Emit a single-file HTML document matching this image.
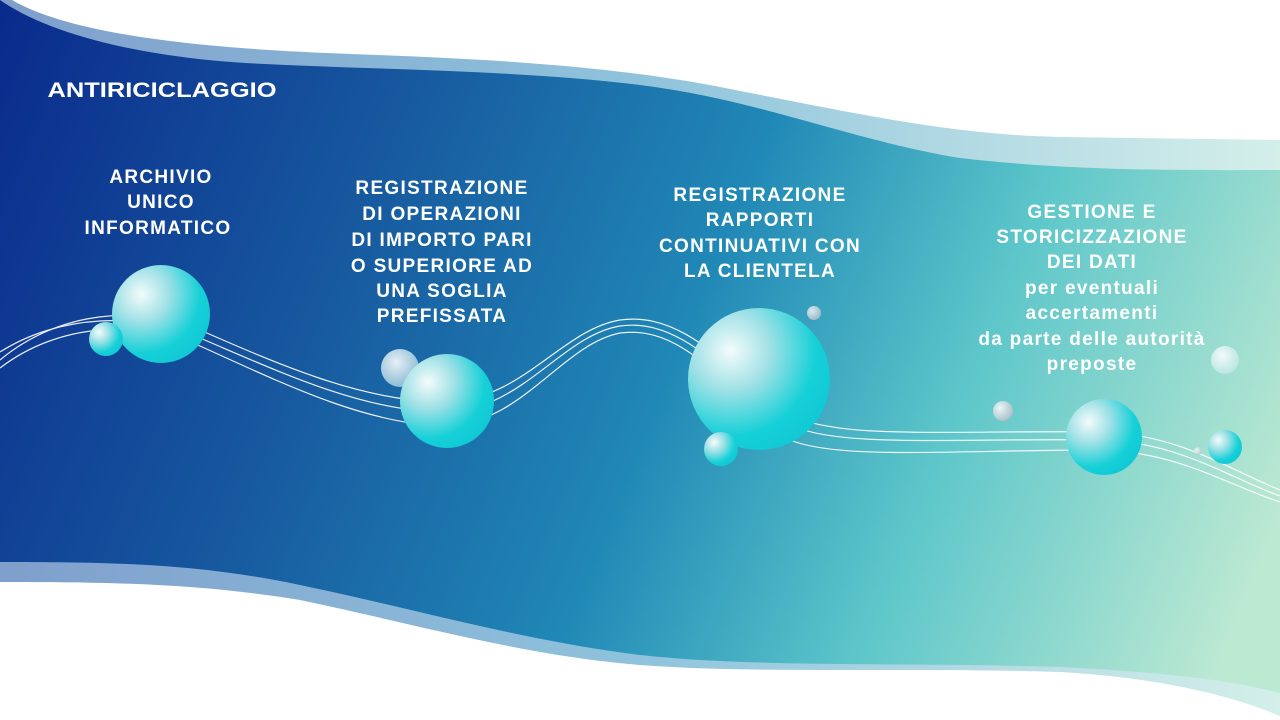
<!DOCTYPE html>
<html><head><meta charset="utf-8"><style>
html,body{margin:0;padding:0;width:1280px;height:720px;overflow:hidden;background:#fff}
svg{display:block}
text{font-family:"Liberation Sans",sans-serif;font-weight:bold;fill:#fff;text-anchor:middle}
</style></head><body>
<svg width="1280" height="720" viewBox="0 0 1280 720">
<defs>
<linearGradient id="bg" x1="0" y1="0" x2="1280" y2="520" gradientUnits="userSpaceOnUse">
<stop offset="0" stop-color="#0a2a8c"/>
<stop offset="0.3" stop-color="#17599f"/>
<stop offset="0.55" stop-color="#2088b6"/>
<stop offset="0.75" stop-color="#5cc6ca"/>
<stop offset="1" stop-color="#bce9d2"/>
</linearGradient>
<linearGradient id="band" x1="0" y1="0" x2="1280" y2="0" gradientUnits="userSpaceOnUse">
<stop offset="0" stop-color="#7f9fcc"/>
<stop offset="0.5" stop-color="#8fc3dc"/>
<stop offset="1" stop-color="#d4efea"/>
</linearGradient>
<radialGradient id="sp" cx="0.3" cy="0.3" r="0.8">
<stop offset="0" stop-color="#f4fbfb"/>
<stop offset="0.35" stop-color="#9fe1e6"/>
<stop offset="0.75" stop-color="#16d0d8"/>
<stop offset="1" stop-color="#10c8d4"/>
</radialGradient>
<radialGradient id="gr" cx="0.35" cy="0.35" r="0.8">
<stop offset="0" stop-color="#ffffff"/>
<stop offset="1" stop-color="#a9b3bf"/>
</radialGradient>
<radialGradient id="fd" cx="0.4" cy="0.35" r="0.8">
<stop offset="0" stop-color="#ffffff" stop-opacity="0.9"/>
<stop offset="1" stop-color="#bfe6ea" stop-opacity="0.6"/>
</radialGradient>
</defs>
<rect width="1280" height="720" fill="url(#bg)"/>
<path d="M0,0 C40,28 120,55 245,63 C380,70 520,70 640,85 C760,100 850,140 960,158 C1080,172 1200,170 1280,170 L1280,0 Z" fill="url(#band)"/>
<path d="M12,0 C60,28 160,46 326,53 C450,58 600,62 735,90 C850,112 950,135 1061,137 L1280,140 L1280,0 Z" fill="#fff"/>
<path d="M0,562 C120,562 200,564 300,585 C420,610 520,640 640,655 C760,668 900,662 1061,667 C1160,672 1230,680 1280,693 L1280,720 L0,720 Z" fill="url(#band)"/>
<path d="M0,582 C120,582 200,584 300,600 C420,625 520,655 640,665 C760,674 900,667 1061,672 C1160,678 1230,695 1280,716 L1280,720 L0,720 Z" fill="#fff"/>
<g fill="none" stroke="#fff" stroke-width="1.2" opacity="0.9">
<path d="M0,360 C60,310 140,305 200,330 C280,365 360,400 440,402 C520,404 560,330 620,320 C680,312 720,360 790,415 C840,440 950,430 1104,432 C1180,435 1230,470 1280,490"/>
<path d="M0,352 C60,314 140,312 200,338 C280,372 360,410 440,412 C520,414 560,336 620,326 C680,318 720,370 790,425 C840,448 950,438 1104,440 C1180,443 1230,478 1280,496"/>
<path d="M0,368 C60,322 140,320 200,346 C280,382 360,422 440,426 C520,428 560,345 620,333 C680,325 720,380 790,440 C840,460 950,450 1104,450 C1180,453 1230,486 1280,502"/>
</g>
<circle cx="400" cy="368" r="19" fill="url(#fd)"/>
<circle cx="1225" cy="360" r="14" fill="url(#fd)"/>
<circle cx="814" cy="313" r="7" fill="url(#gr)" opacity="0.8"/>
<circle cx="1003" cy="411" r="10" fill="url(#gr)" opacity="0.85"/>
<circle cx="1198" cy="451" r="4" fill="url(#gr)" opacity="0.7"/>
<circle cx="161" cy="314" r="49" fill="url(#sp)"/>
<circle cx="106" cy="339" r="17" fill="url(#sp)"/>
<circle cx="447" cy="401" r="47" fill="url(#sp)"/>
<circle cx="759" cy="379" r="71" fill="url(#sp)"/>
<circle cx="721" cy="449" r="17" fill="url(#sp)"/>
<circle cx="1104" cy="437" r="38" fill="url(#sp)"/>
<circle cx="1225" cy="447" r="17" fill="url(#sp)"/>
<text x="162" y="97" font-size="21" textLength="229" lengthAdjust="spacingAndGlyphs">ANTIRICICLAGGIO</text>
<g font-size="19" letter-spacing="1.3">
<text x="161" y="183">ARCHIVIO</text>
<text x="161" y="208">UNICO</text>
<text x="158" y="234">INFORMATICO</text>
<text x="442" y="194">REGISTRAZIONE</text>
<text x="442" y="220">DI OPERAZIONI</text>
<text x="442" y="246">DI IMPORTO PARI</text>
<text x="442" y="272">O SUPERIORE  AD</text>
<text x="442" y="297">UNA SOGLIA</text>
<text x="442" y="322">PREFISSATA</text>
<text x="760" y="201">REGISTRAZIONE</text>
<text x="760" y="226">RAPPORTI</text>
<text x="760" y="252">CONTINUATIVI CON</text>
<text x="760" y="277">LA CLIENTELA</text>
<text x="1092" y="218">GESTIONE E</text>
<text x="1092" y="243">STORICIZZAZIONE</text>
<text x="1092" y="268">DEI DATI</text>
<text x="1092" y="294">per eventuali</text>
<text x="1092" y="319">accertamenti</text>
<text x="1092" y="345">da parte delle autorità</text>
<text x="1092" y="370">preposte</text>
</g>
</svg>
</body></html>
